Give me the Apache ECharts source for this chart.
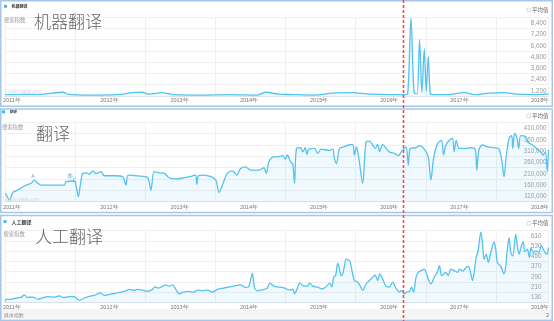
<!DOCTYPE html>
<html><head><meta charset="utf-8">
<script src="https://cdn.jsdelivr.net/npm/echarts@6/dist/echarts.min.js"></script>
<style>html,body{margin:0;padding:0;background:#fff}#c{width:554px;height:321px}</style>
</head><body><div id="c"></div>
<script>
// ---- data (fractional year, index value) ----
const yearLabels = ['2011年','2012年','2013年','2014年','2015年','2016年','2017年','2018年'];
const yearLabelPos = [2011.10, 2012.49, 2013.49, 2014.48, 2015.48, 2016.48, 2017.48, 2018.63];

const titles = ['机器翻译', '翻译', '人工翻译'];

const T1 = [2011.000, 2011.300, 2011.450, 2011.830, 2011.900, 2012.200, 2012.600, 2012.820, 2012.960, 2013.050, 2013.240, 2013.400, 2013.800, 2014.200, 2014.600, 2014.720, 2014.900, 2015.100, 2015.400, 2015.670, 2015.950, 2016.200, 2016.500, 2016.700, 2016.741, 2016.789, 2016.836, 2016.876, 2016.912, 2016.945, 2016.979, 2017.007, 2017.035, 2017.065, 2017.100, 2017.300, 2017.550, 2017.700, 2017.900, 2018.100, 2018.300, 2018.500, 2018.750];
const V1 = [1350, 1380, 1350, 1600, 1380, 1300, 1350, 1550, 1600, 1400, 1550, 1350, 1300, 1350, 1300, 1600, 1400, 1350, 1300, 1500, 1550, 1400, 1350, 1350, 1400, 9500, 1500, 1450, 7200, 1600, 6200, 1700, 5400, 1450, 1350, 1350, 1550, 1350, 1500, 1550, 1400, 1350, 1400];

const T2 = [2011.000, 2011.018, 2011.065, 2011.114, 2011.185, 2011.232, 2011.303, 2011.374, 2011.421, 2011.469, 2011.516, 2011.659, 2011.848, 2011.872, 2011.990, 2012.019, 2012.047, 2012.075, 2012.110, 2012.157, 2012.204, 2012.252, 2012.299, 2012.370, 2012.417, 2012.559, 2012.678, 2012.725, 2012.758, 2012.892, 2013.034, 2013.081, 2013.128, 2013.199, 2013.270, 2013.341, 2013.437, 2013.555, 2013.674, 2013.721, 2013.735, 2013.760, 2013.839, 2013.935, 2014.006, 2014.053, 2014.101, 2014.172, 2014.243, 2014.304, 2014.361, 2014.432, 2014.503, 2014.622, 2014.693, 2014.727, 2014.764, 2014.835, 2014.892, 2014.963, 2014.997, 2015.026, 2015.073, 2015.105, 2015.129, 2015.158, 2015.215, 2015.248, 2015.282, 2015.305, 2015.333, 2015.414, 2015.461, 2015.509, 2015.627, 2015.674, 2015.698, 2015.727, 2015.770, 2015.831, 2015.898, 2015.959, 2015.983, 2016.011, 2016.040, 2016.101, 2016.149, 2016.196, 2016.243, 2016.277, 2016.314, 2016.343, 2016.385, 2016.434, 2016.481, 2016.552, 2016.609, 2016.647, 2016.694, 2016.723, 2016.751, 2016.780, 2016.861, 2016.908, 2016.979, 2017.036, 2017.074, 2017.111, 2017.168, 2017.225, 2017.253, 2017.287, 2017.334, 2017.381, 2017.405, 2017.434, 2017.476, 2017.548, 2017.643, 2017.704, 2017.728, 2017.757, 2017.808, 2017.879, 2017.974, 2018.045, 2018.087, 2018.116, 2018.149, 2018.191, 2018.226, 2018.240, 2018.268, 2018.297, 2018.326, 2018.354, 2018.425, 2018.458, 2018.505, 2018.553, 2018.600, 2018.639, 2018.672, 2018.707, 2018.732, 2018.750];
const V2 = [147000, 142000, 117000, 151000, 161000, 171000, 183000, 191000, 205000, 191000, 183000, 183000, 183000, 198000, 201000, 176000, 132000, 183000, 235000, 237000, 231000, 245000, 233000, 242000, 224000, 224000, 220000, 183000, 227000, 223000, 215000, 161000, 242000, 237000, 235000, 215000, 210000, 215000, 223000, 227000, 186000, 224000, 227000, 220000, 205000, 151000, 183000, 235000, 245000, 227000, 256000, 263000, 249000, 249000, 259000, 235000, 285000, 307000, 307000, 312000, 297000, 315000, 285000, 274000, 191000, 344000, 347000, 329000, 347000, 318000, 341000, 344000, 322000, 341000, 335000, 341000, 300000, 278000, 344000, 351000, 359000, 362000, 315000, 351000, 315000, 191000, 373000, 376000, 359000, 344000, 362000, 329000, 362000, 344000, 329000, 322000, 312000, 327000, 344000, 351000, 271000, 344000, 347000, 356000, 341000, 307000, 205000, 300000, 366000, 379000, 315000, 359000, 379000, 388000, 329000, 379000, 344000, 344000, 347000, 341000, 249000, 337000, 359000, 351000, 347000, 341000, 285000, 220000, 315000, 391000, 400000, 344000, 410000, 395000, 344000, 400000, 395000, 371000, 362000, 351000, 337000, 329000, 315000, 328000, 242000, 337000];

const T3 = [2011.000, 2011.018, 2011.090, 2011.161, 2011.232, 2011.279, 2011.317, 2011.398, 2011.478, 2011.541, 2011.612, 2011.706, 2011.777, 2011.839, 2011.919, 2011.990, 2012.061, 2012.132, 2012.203, 2012.275, 2012.360, 2012.417, 2012.488, 2012.583, 2012.654, 2012.725, 2012.772, 2012.835, 2012.892, 2012.963, 2013.034, 2013.105, 2013.138, 2013.185, 2013.233, 2013.294, 2013.341, 2013.390, 2013.437, 2013.484, 2013.546, 2013.612, 2013.688, 2013.754, 2013.817, 2013.888, 2013.959, 2014.030, 2014.115, 2014.209, 2014.290, 2014.361, 2014.432, 2014.479, 2014.528, 2014.561, 2014.607, 2014.693, 2014.741, 2014.778, 2014.835, 2014.916, 2014.987, 2015.058, 2015.105, 2015.129, 2015.176, 2015.201, 2015.248, 2015.319, 2015.343, 2015.390, 2015.461, 2015.518, 2015.566, 2015.603, 2015.632, 2015.660, 2015.688, 2015.717, 2015.745, 2015.770, 2015.794, 2015.816, 2015.841, 2015.865, 2015.898, 2015.922, 2015.945, 2015.983, 2016.030, 2016.068, 2016.101, 2016.149, 2016.196, 2016.243, 2016.277, 2016.314, 2016.343, 2016.385, 2016.434, 2016.481, 2016.528, 2016.576, 2016.623, 2016.656, 2016.694, 2016.727, 2016.765, 2016.798, 2016.826, 2016.861, 2016.893, 2016.940, 2016.979, 2017.007, 2017.036, 2017.074, 2017.121, 2017.168, 2017.196, 2017.225, 2017.253, 2017.282, 2017.320, 2017.358, 2017.405, 2017.452, 2017.481, 2017.529, 2017.572, 2017.605, 2017.633, 2017.666, 2017.690, 2017.718, 2017.747, 2017.785, 2017.808, 2017.832, 2017.861, 2017.893, 2017.927, 2017.974, 2017.998, 2018.021, 2018.070, 2018.116, 2018.141, 2018.164, 2018.188, 2018.212, 2018.240, 2018.283, 2018.306, 2018.330, 2018.363, 2018.391, 2018.411, 2018.448, 2018.477, 2018.501, 2018.534, 2018.571, 2018.614, 2018.646, 2018.675, 2018.709, 2018.730, 2018.750];
const V3 = [139, 155, 155, 165, 170, 190, 170, 172, 155, 167, 175, 172, 182, 167, 175, 175, 147, 165, 178, 185, 205, 185, 193, 203, 211, 221, 232, 224, 232, 226, 216, 232, 252, 242, 252, 267, 257, 267, 232, 198, 211, 216, 211, 226, 221, 226, 211, 232, 242, 252, 262, 267, 247, 257, 357, 242, 221, 232, 242, 282, 257, 249, 242, 226, 234, 198, 249, 282, 262, 257, 282, 257, 249, 236, 247, 267, 280, 252, 326, 344, 437, 390, 339, 352, 416, 467, 460, 447, 386, 301, 288, 257, 224, 275, 301, 326, 344, 301, 352, 313, 257, 249, 288, 242, 211, 224, 198, 211, 216, 249, 211, 326, 365, 380, 390, 359, 313, 275, 326, 370, 416, 339, 349, 365, 339, 390, 378, 365, 390, 375, 403, 411, 378, 301, 365, 480, 532, 678, 596, 467, 506, 442, 519, 601, 544, 442, 411, 352, 416, 544, 634, 519, 493, 660, 570, 506, 570, 601, 524, 544, 480, 557, 519, 532, 519, 575, 544, 513, 506, 557];

const yMin = [1200, 110000, 130];
const yMax = [9600, 460000, 690];
const yStep = [1200, 50000, 80];

// ---- layout ----
const gridTop = [17, 122, 230.5];
const gridH = [79, 79.7, 72];
const X0 = 3.7, XW = 544.8;
const LINE = '#53c2f0';
const NUMF = '"Liberation Sans","DejaVu Sans",sans-serif';
const CJK = '"Noto Sans CJK SC",sans-serif';

const chart = echarts.init(document.getElementById('c'), null, {renderer: 'canvas'});
const pairs = (T, V) => T.map((t, i) => [t, V[i]]);
const series = [pairs(T1, V1), pairs(T2, V2), pairs(T3, V3)];

const grids = [], xAxes = [], yAxes = [], ser = [];
const yLabelMargin = [2, 2, 7];
const xLabelMargin = [1.5, 3, 2];
for (let i = 0; i < 3; i++) {
  grids.push({left: X0, top: gridTop[i], width: XW, height: gridH[i], containLabel: false});
  xAxes.push({
    type: 'value', gridIndex: i, min: 2011, max: 2018.75, interval: 1,
    axisLine: {show: true, lineStyle: {color: '#dde3ea', width: 1}},
    axisTick: {show: false},
    splitLine: {show: true, lineStyle: {color: '#f0f0f0', width: 1}},
    axisLabel: {
      customValues: yearLabelPos, margin: xLabelMargin[i],
      formatter: v => Math.floor(v + 1e-6) + '年',
      fontSize: 5.5, color: '#777', fontFamily: NUMF
    }
  });
  yAxes.push({
    type: 'value', gridIndex: i, position: 'right',
    min: yMin[i], max: yMax[i], interval: yStep[i],
    axisLine: {show: false}, axisTick: {show: false},
    splitLine: {show: true, lineStyle: {color: '#f0f0f0', width: 1}},
    axisLabel: {
      inside: true, margin: yLabelMargin[i], showMaxLabel: false,
      formatter: v => v.toLocaleString('en-US'),
      fontSize: 6.3, color: '#999', fontFamily: NUMF,
      verticalAlign: 'bottom', padding: [0, 0, 1.5, 0], lineHeight: 7
    }
  });
  ser.push({
    type: 'line', xAxisIndex: i, yAxisIndex: i, data: series[i],
    smooth: 0.3, symbol: 'none', clip: true,
    lineStyle: {color: LINE, width: 1.3},
    areaStyle: {color: 'rgba(120,205,242,0.16)', origin: 'start'}
  });
}

const frameColor = '#a7c7ea';
const g = [];
// frames
[[0.75, 0.75, 551.5, 105.5], [0.75, 109, 551.5, 103.5], [0.75, 215.5, 551.5, 105]].forEach(r => {
  g.push({type: 'rect', shape: {x: r[0], y: r[1], width: r[2], height: r[3]}, style: {fill: 'none', stroke: frameColor, lineWidth: 1.5}, z: 10});
});
// bottom media-index band
g.push({type: 'rect', shape: {x: 1.5, y: 310, width: 550, height: 10}, style: {fill: '#f6f6f6', stroke: '#e6e6e6', lineWidth: 0.5}, z: 1});
g.push({type: 'text', x: 4, y: 315.5, style: {text: '媒体指数', fontSize: 5.3, fill: '#888', font: '5.3px ' + CJK, textVerticalAlign: 'middle'}, z: 5});
g.push({type: 'text', x: 549, y: 315.5, style: {text: '2', fontSize: 5.5, fill: '#666', fontFamily: NUMF, textAlign: 'right', textVerticalAlign: 'middle'}, z: 5});

const legendY = [6.3, 111.8, 221.6];
const legendSz = [4, 3.6, 5];
const subY = [20, 127, 234];
const bigY = [22, 134, 237];
const avgY = [10, 115.7, 223.3];
for (let i = 0; i < 3; i++) {
  g.push({type: 'rect', shape: {x: [4, 2, 3.5][i], y: legendY[i] - 1.4, width: 3, height: 2.8}, style: {fill: '#3db5f2'}, z: 5});
  g.push({type: 'text', x: [11.5, 10, 11.5][i], y: legendY[i], style: {text: titles[i], font: 'bold ' + legendSz[i] + 'px ' + CJK, fill: '#333', textVerticalAlign: 'middle'}, z: 5});
  g.push({type: 'text', x: [4, 2, 3.5][i], y: subY[i], style: {text: '搜索指数', font: '5.3px ' + CJK, fill: '#999', textVerticalAlign: 'middle'}, z: 5});
  g.push({type: 'text', x: [34, 36, 35][i], y: bigY[i], style: {text: titles[i], font: '300 17px ' + CJK, fill: '#666', textVerticalAlign: 'middle'}, z: 5});
  g.push({type: 'rect', shape: {x: 527, y: avgY[i] - 1.8, width: 3.6, height: 3.6}, style: {fill: '#fff', stroke: '#bbb', lineWidth: 0.5}, z: 5});
  g.push({type: 'text', x: 532, y: avgY[i], style: {text: '平均值', font: '5.5px ' + CJK, fill: '#666', textVerticalAlign: 'middle'}, z: 5});
}
// watermarks
g.push({type: 'text', x: 4, y: 92, style: {text: '© index.baidu.com', font: '4.5px ' + NUMF, fill: '#cfd8e0', textVerticalAlign: 'middle'}, z: 5});
g.push({type: 'text', x: 2, y: 199.5, style: {text: '© index.baidu.com', font: '4.5px ' + NUMF, fill: '#cfd8e0', textVerticalAlign: 'middle'}, z: 5});
// event markers
g.push({type: 'text', x: 33, y: 177, style: {text: 'A', font: '5px ' + NUMF, fill: '#53a8e0', textAlign: 'center', textVerticalAlign: 'middle'}, z: 5});
g.push({type: 'circle', shape: {cx: 70, cy: 176, r: 2.2}, style: {fill: '#fff', stroke: '#53a8e0', lineWidth: 0.5}, z: 5});
g.push({type: 'text', x: 70, y: 176, style: {text: 'B', font: '3.8px ' + NUMF, fill: '#53a8e0', textAlign: 'center', textVerticalAlign: 'middle'}, z: 6});
g.push({type: 'text', x: 74.5, y: 181, style: {text: 'C', font: '5px ' + NUMF, fill: '#53a8e0', textAlign: 'center', textVerticalAlign: 'middle'}, z: 5});
// red dashed marker line
g.push({type: 'line', z: 20, shape: {x1: 403.5, y1: 0, x2: 403.5, y2: 321}, style: {stroke: '#f24d4d', lineWidth: 1.6, lineDash: [3, 2]}});

chart.setOption({
  animation: false,
  backgroundColor: '#fff',
  grid: grids, xAxis: xAxes, yAxis: yAxes, series: ser,
  graphic: g
});
</script></body></html>
